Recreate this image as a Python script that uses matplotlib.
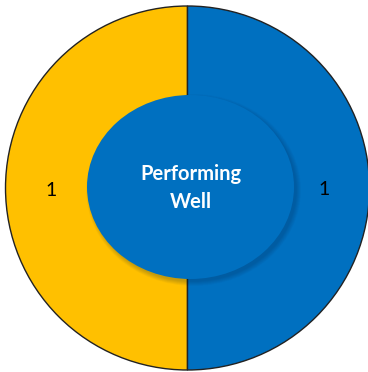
import matplotlib.pyplot as plt
from matplotlib.patches import Ellipse

values = [1, 1]
colors = ['#FFC000', '#0070C0']
center_lines = ['Performing', 'Well']

W, H = 368, 372
fig = plt.figure(figsize=(W / 100, H / 100), dpi=100)
ax = fig.add_axes([0, 0, 1, 1])

cx, cy, r = 187.5, H - 188, 182

wedges, labels, nums = ax.pie(
    values, colors=colors, startangle=90, counterclock=True,
    center=(cx, cy), radius=r,
    autopct=lambda p: '%d' % round(p * sum(values) / 100),
    pctdistance=0.75,
    textprops={'family': 'Lato', 'fontsize': 14, 'color': 'black'},
    wedgeprops={'edgecolor': '#222222', 'linewidth': 1.0})
for t in nums:
    x, y = t.get_position()
    t.set_position((x, y - 2))

# soft shadow under the centre disc
ex, ey, ew, eh = 190.5, H - 187, 207, 184
for i in range(10):
    ax.add_patch(Ellipse((ex + 3, ey - 3), ew + 8 - i, eh + 8 - i,
                         facecolor='#00284a', edgecolor='none', alpha=0.025,
                         zorder=3))
ax.add_patch(Ellipse((ex, ey), ew, eh, facecolor='#0070C0',
                     edgecolor='none', zorder=4))

ax.text(ex, H - 174, center_lines[0], ha='center', va='center', color='white',
        fontsize=14.5, fontweight='bold', family='Lato', zorder=5)
ax.text(ex, H - 202, center_lines[1], ha='center', va='center', color='white',
        fontsize=14.5, fontweight='bold', family='Lato', zorder=5)

ax.set_xlim(0, W)
ax.set_ylim(0, H)
ax.set_aspect('equal')
ax.axis('off')

fig.savefig('out.png', dpi=100)
